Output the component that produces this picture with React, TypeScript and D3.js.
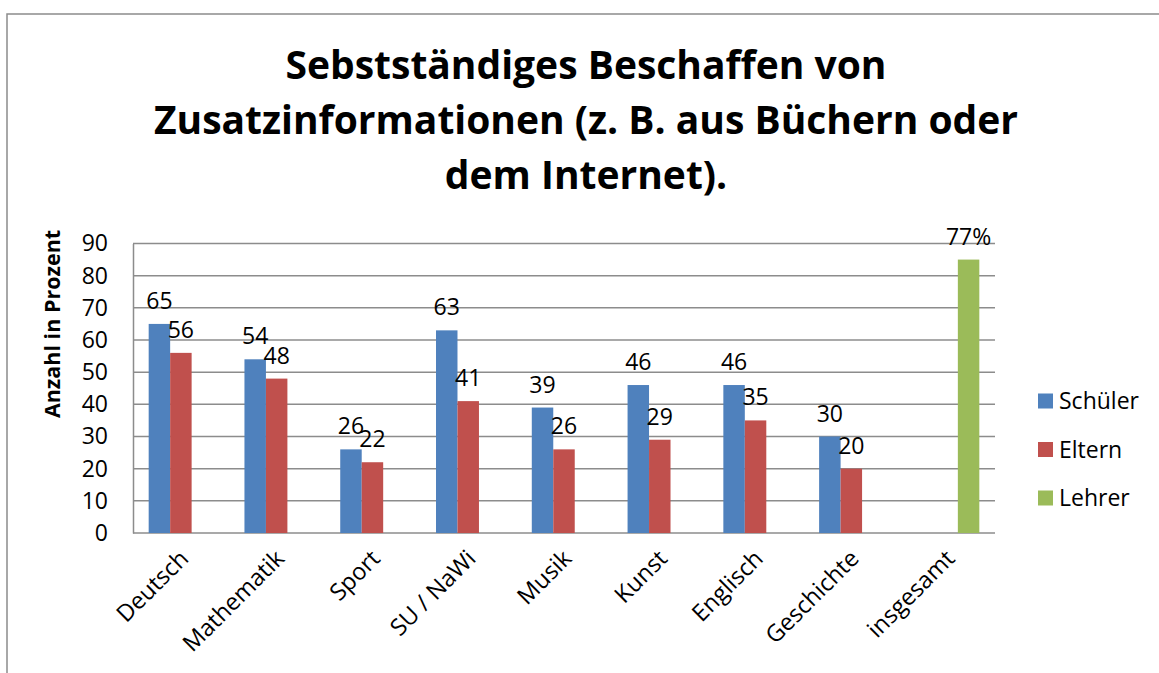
import React, { useEffect, useRef } from 'react';
import * as d3 from "d3";

const categories = ["Deutsch", "Mathematik", "Sport", "SU / NaWi", "Musik", "Kunst", "Englisch", "Geschichte", "insgesamt"];
const seriesNames = ["Schüler", "Eltern", "Lehrer"];
const schueler = [65, 54, 26, 63, 39, 46, 46, 30, null];
const eltern = [56, 48, 22, 41, 26, 29, 35, 20, null];
const lehrer = [null, null, null, null, null, null, null, null, 85];
const lehrerLabels = ["", "", "", "", "", "", "", "", "77%"];
const yTicks = [0, 10, 20, 30, 40, 50, 60, 70, 80, 90];
const titleLines = ["Sebstständiges Beschaffen von", "Zusatzinformationen (z. B. aus Büchern oder", "dem Internet)."];
const colors = ["#4F81BD", "#C0504D", "#9BBB59"];

const FONT = "'Open Sans', 'DejaVu Sans', sans-serif";

const App = () => {
    const svgRef = useRef<SVGSVGElement | null>(null);

    useEffect(() => {
        if (!svgRef.current) return;
        const svg = d3.select(svgRef.current);
        svg.selectAll("*").remove();

        const width = 1159;
        const height = 673;
        const plot = { left: 133, right: 995, top: 243.5, bottom: 533 };

        svg.attr("width", width).attr("height", height);

        // outer chart frame
        svg.append("rect")
            .attr("x", 7).attr("y", 14)
            .attr("width", 1200).attr("height", 700)
            .attr("fill", "white")
            .attr("stroke", "#8c8c8c")
            .attr("stroke-width", 1.5);

        // title
        const title = svg.append("g").attr("font-family", FONT).attr("font-weight", "bold").attr("font-size", 39).attr("text-anchor", "middle");
        titleLines.forEach((line, i) => {
            title.append("text").attr("x", 586).attr("y", 79 + i * 55).text(line);
        });

        const xScale = d3.scaleBand<string>().domain(categories).range([plot.left, plot.right]);
        const inner = d3.scaleBand<string>().domain(seriesNames).range([0, xScale.bandwidth()]).paddingInner(0).paddingOuter(0.73);
        const yScale = d3.scaleLinear().domain([0, 90]).range([plot.bottom, plot.top]);

        // gridlines
        svg.append("g")
            .selectAll("line")
            .data(yTicks)
            .enter()
            .append("line")
            .attr("x1", plot.left).attr("x2", plot.right)
            .attr("y1", (d: number) => yScale(d)).attr("y2", (d: number) => yScale(d))
            .attr("stroke", "#8c8c8c")
            .attr("stroke-width", 1.5);

        // y axis
        const yAxis = d3.axisLeft(yScale).tickValues(yTicks).tickSize(0).tickPadding(25);
        const yg = svg.append("g").attr("transform", `translate(${plot.left}, 0)`).call(yAxis);
        yg.select(".domain").attr("stroke", "#8c8c8c").attr("stroke-width", 1.5);
        yg.selectAll("text").attr("font-family", FONT).attr("font-size", 23).attr("fill", "#000");

        svg.append("text")
            .attr("transform", `translate(60, 324) rotate(-90)`)
            .attr("text-anchor", "middle")
            .attr("font-family", FONT)
            .attr("font-weight", "bold")
            .attr("font-size", 21.5)
            .text("Anzahl in Prozent");

        const series = [schueler, eltern, lehrer];

        series.forEach((values, si) => {
            const g = svg.append("g");
            const rows = categories.map((c, i) => ({ cat: c, value: values[i], label: si === 2 ? lehrerLabels[i] : String(values[i]) }))
                .filter((d) => d.value !== null);
            g.selectAll("rect")
                .data(rows)
                .enter()
                .append("rect")
                .attr("x", (d: any) => (xScale(d.cat) || 0) + (inner(seriesNames[si]) || 0))
                .attr("y", (d: any) => yScale(d.value))
                .attr("width", inner.bandwidth())
                .attr("height", (d: any) => plot.bottom - yScale(d.value))
                .attr("fill", colors[si]);

            g.selectAll("text")
                .data(rows)
                .enter()
                .append("text")
                .attr("x", (d: any) => (xScale(d.cat) || 0) + (inner(seriesNames[si]) || 0) + inner.bandwidth() / 2)
                .attr("y", (d: any) => yScale(d.value) - 15)
                .attr("text-anchor", "middle")
                .attr("font-family", FONT)
                .attr("font-size", 23)
                .text((d: any) => d.label);
        });

        // x labels
        svg.append("g")
            .selectAll("text")
            .data(categories)
            .enter()
            .append("text")
            .attr("transform", (d: string) => `translate(${(xScale(d) || 0) + xScale.bandwidth() / 2 + 9}, ${plot.bottom + 27}) rotate(-45)`)
            .attr("text-anchor", "end")
            .attr("font-family", FONT)
            .attr("font-size", 23.5)
            .text((d: string) => d);

        // legend
        const legend = svg.append("g");
        seriesNames.forEach((name, i) => {
            const cy = 401 + i * 48.5;
            legend.append("rect").attr("x", 1038).attr("y", cy - 7.5).attr("width", 15).attr("height", 15).attr("fill", colors[i]);
            legend.append("text").attr("x", 1059).attr("y", cy + 8)
                .attr("font-family", FONT).attr("font-size", 23).text(name);
        });
    }, []);

    return (
        <div style={{ position: "absolute", left: 0, top: 0 }}>
            <svg ref={svgRef}></svg>
        </div>
    );
};

export default App;
